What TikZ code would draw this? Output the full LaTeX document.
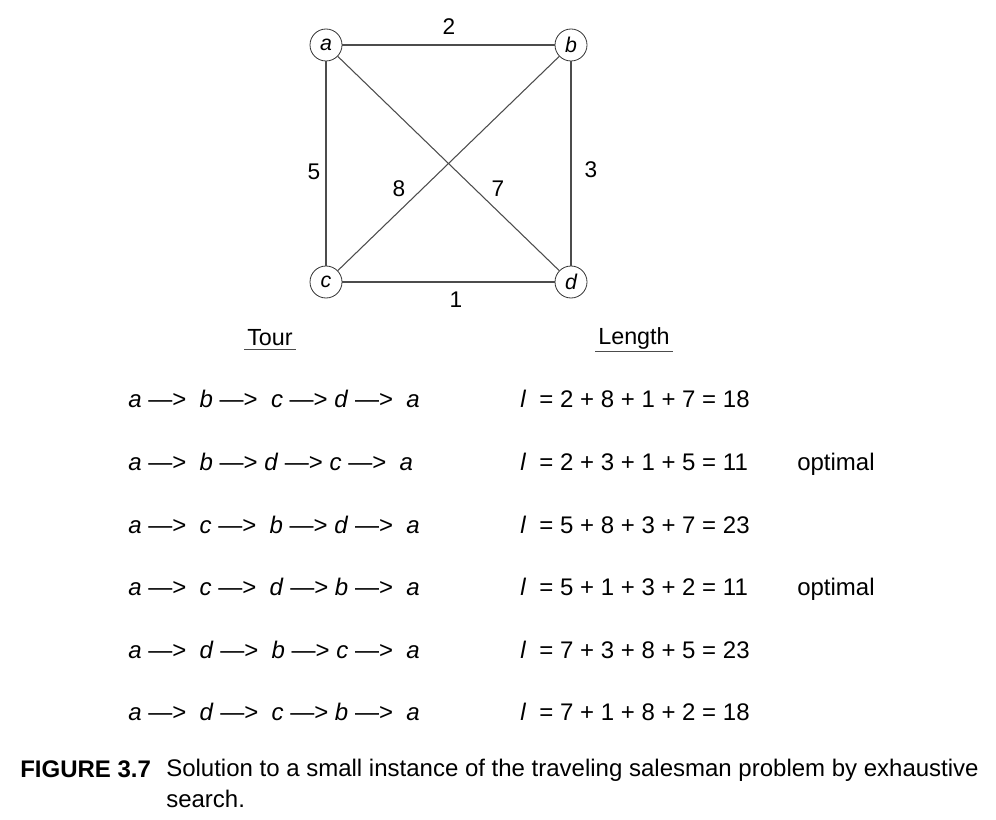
\documentclass[tikz,border=0pt]{standalone}
\usepackage{fontspec}
\setmainfont{Liberation Sans}
\usetikzlibrary{positioning}

\begin{document}
\begin{tikzpicture}[
    x=0.75pt,y=-0.75pt,
    vertex/.style={draw=black!80,circle,line width=0.6pt,inner sep=0pt,
      minimum size=24pt,font=\fontsize{16}{18}\selectfont\itshape},
    weight/.style={font=\fontsize{17}{20}\selectfont},
    edge/.style={draw=black!70,line width=0.8pt},
    head/.style={inner sep=2pt,font=\fontsize{17.5}{20}\selectfont},
    row/.style={anchor=base west,inner sep=0pt,font=\fontsize{18}{21}\selectfont},
    caption/.style={anchor=base west,inner sep=0pt,align=left,
      font=\fontsize{18}{23.3}\selectfont}
  ]
    \useasboundingbox (0,0) rectangle (996,820);
    % the graph
    \node[vertex] (a) at (326,45) {a};
    \node[vertex] (b) at (571,45) {b};
    \node[vertex] (c) at (326,282) {c};
    \node[vertex] (d) at (571,282) {d};
    \draw[edge] (a)--(b);\draw[edge] (b)--(d);\draw[edge] (c)--(d);
    \draw[edge] (a)--(c);\draw[edge] (a)--(d);\draw[edge] (b)--(c);
    \node[weight] (wab) at (449,27) {2};
    \node[weight] (wbd) at (591,170) {3};
    \node[weight] (wac) at (314,172) {5};
    \node[weight] (wbc) at (399,189) {8};
    \node[weight] (wad) at (498,189) {7};
    \node[weight] (wcd) at (456,300) {1};
    % column heads
    \node[head] (tour) at (270,338) {Tour};
    \node[head] (len) at (634,338) {Length};
    \draw[edge] (tour.south west)--(tour.south east);
    \draw[edge] (len.south west)--(len.south east);
    % tours and lengths
    \node[row] (t1) at (128,407) {\textit{a} ---> \ \textit{b} ---> \ \textit{c} ---> \textit{d} ---> \ \textit{a}};
    \node[row] (l1) at (520,407) {\textit{l} \ = 2 + 8 + 1 + 7 = 18};
    \node[row] (t2) at (128,470) {\textit{a} ---> \ \textit{b} ---> \textit{d} ---> \textit{c} ---> \ \textit{a}};
    \node[row] (l2) at (520,470) {\textit{l} \ = 2 + 3 + 1 + 5 = 11};
    \node[row] (o2) at (797,470) {optimal};
    \node[row] (t3) at (128,533) {\textit{a} ---> \ \textit{c} ---> \ \textit{b} ---> \textit{d} ---> \ \textit{a}};
    \node[row] (l3) at (520,533) {\textit{l} \ = 5 + 8 + 3 + 7 = 23};
    \node[row] (t4) at (128,595) {\textit{a} ---> \ \textit{c} ---> \ \textit{d} ---> \textit{b} ---> \ \textit{a}};
    \node[row] (l4) at (520,595) {\textit{l} \ = 5 + 1 + 3 + 2 = 11};
    \node[row] (o4) at (797,595) {optimal};
    \node[row] (t5) at (128,658) {\textit{a} ---> \ \textit{d} ---> \ \textit{b} ---> \textit{c} ---> \ \textit{a}};
    \node[row] (l5) at (520,658) {\textit{l} \ = 7 + 3 + 8 + 5 = 23};
    \node[row] (t6) at (128,720) {\textit{a} ---> \ \textit{d} ---> \ \textit{c} ---> \textit{b} ---> \ \textit{a}};
    \node[row] (l6) at (520,720) {\textit{l} \ = 7 + 1 + 8 + 2 = 18};
    % caption
    \node[caption] (fig) at (20,777) {\textbf{FIGURE 3.7}};
    \node[caption,anchor=north west] (cap) at (166,759) {Solution to a small instance of the traveling salesman problem by exhaustive\\search.};
  \end{tikzpicture}
\end{document}
